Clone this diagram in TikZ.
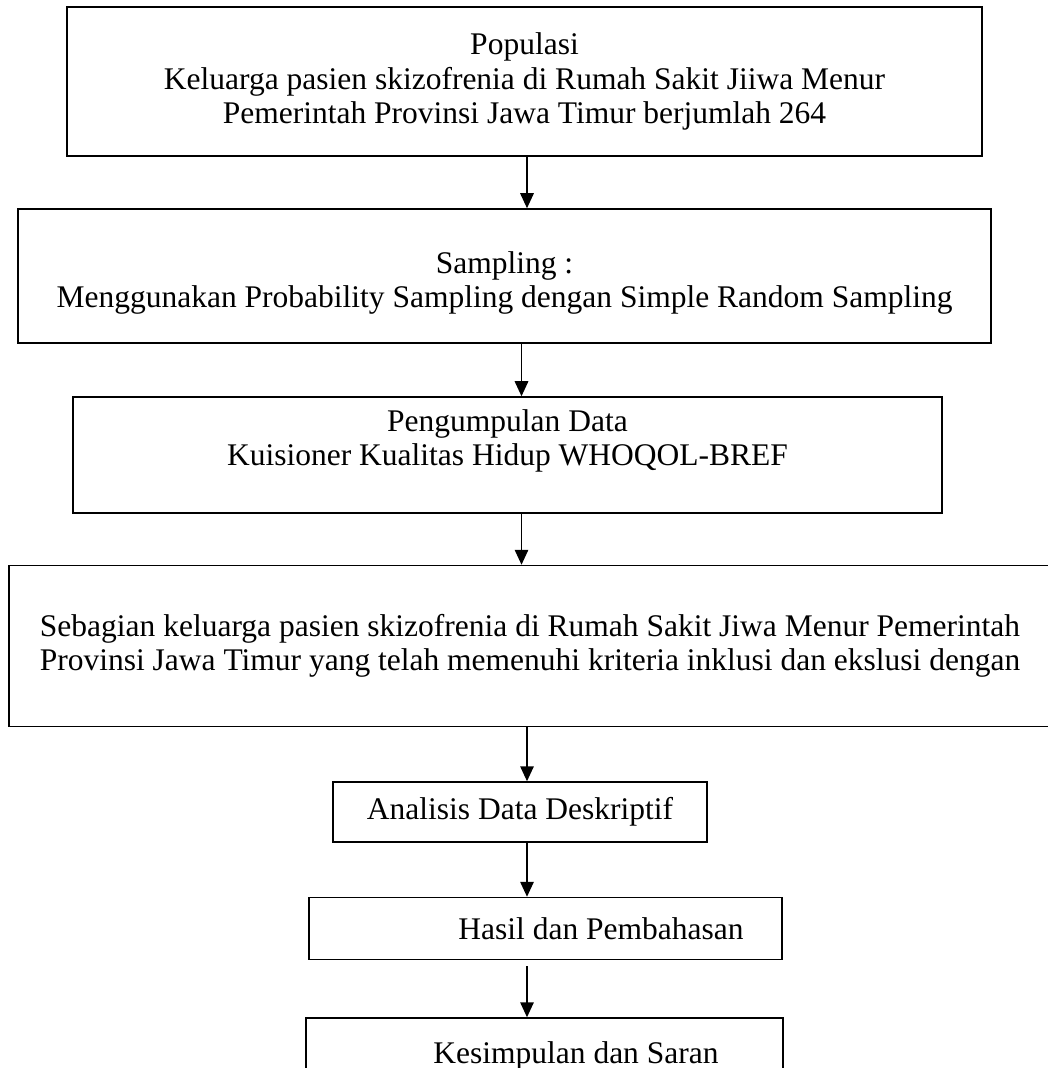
\documentclass[tikz,border=0pt]{standalone}
\usepackage{fontspec}
\setmainfont{Liberation Serif}
\usetikzlibrary{arrows.meta,positioning}

\begin{document}
\begin{tikzpicture}[
    node distance=21pt,
    flowBox/.style={
        rectangle,
        draw=black,
        line width=0.6pt,
        inner sep=0pt,
        align=center,
        font=\fontsize{12.6}{13.8}\selectfont
    },
    arrow/.style={-{Triangle[width=5.4pt,length=6pt]}, line width=0.6pt}
]
    \useasboundingbox (0,0) rectangle (418.8pt,-427.2pt);
    \coordinate (axisA) at (210.8pt,0);
    \coordinate (axisB) at (208.6pt,0);

    \node[flowBox, line width=1pt, minimum width=366pt, minimum height=59.6pt]
        (populasi) at (209.8pt,-32.6pt)
        {Populasi\\Keluarga pasien skizofrenia di Rumah Sakit Jiiwa Menur\\Pemerintah Provinsi Jawa Timur berjumlah 264};
    \node[flowBox, minimum width=389.2pt, minimum height=53.6pt, below=20.4pt of populasi, xshift=-8pt]
        (sampling) {\rule{0pt}{14.2pt}Sampling :\\Menggunakan Probability Sampling dengan Simple Random Sampling};
    \node[flowBox, minimum width=347.6pt, minimum height=46.4pt, below=of sampling, xshift=1.2pt]
        (kumpulData) {Pengumpulan Data\\Kuisioner Kualitas Hidup WHOQOL-BREF\rule[-14pt]{0pt}{0pt}};
    \node[flowBox, minimum width=416.8pt, minimum height=64.4pt, below=20.4pt of kumpulData, xshift=9pt]
        (sampel) {Sebagian keluarga pasien skizofrenia di Rumah Sakit Jiwa Menur Pemerintah\\Provinsi Jawa Timur yang telah memenuhi kriteria inklusi dan ekslusi dengan};
    \node[flowBox, minimum width=149.6pt, minimum height=24pt, below=21.6pt of sampel, xshift=-4pt]
        (analisis) {Analisis Data Deskriptif};
    \node[flowBox, minimum width=189.2pt, minimum height=24.8pt, below=21.6pt of analisis, xshift=10.2pt]
        (hasil) {\hspace*{44.4pt}Hasil dan Pembahasan};
    \node[flowBox, minimum width=190.8pt, minimum height=30.4pt, below=22.8pt of hasil, xshift=-0.4pt]
        (simpulan) {\hspace*{25.2pt}Kesimpulan dan Saran};

    \draw[arrow] (populasi.south -| axisA) -- (sampling.north -| axisA);
    \draw[arrow] (sampling.south -| axisB) -- (kumpulData.north -| axisB);
    \draw[arrow] (kumpulData.south -| axisB) -- (sampel.north -| axisB);
    \draw[arrow] (sampel.south -| axisA) -- (analisis.north -| axisA);
    \draw[arrow] (analisis.south -| axisA) -- (hasil.north -| axisA);
    \draw[arrow, shorten <=2.4pt] (hasil.south -| axisA) -- (simpulan.north -| axisA);
\end{tikzpicture}
\end{document}
